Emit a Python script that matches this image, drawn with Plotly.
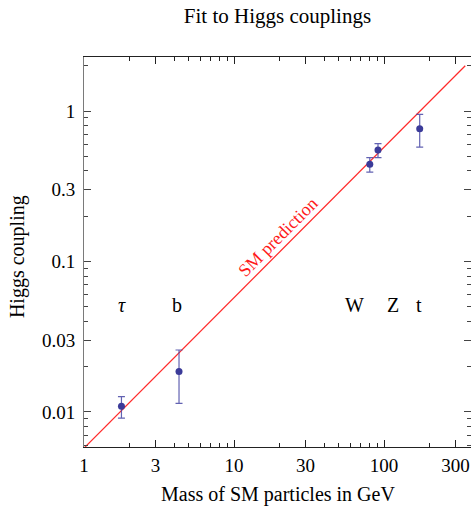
import math
import plotly.graph_objects as go

particles = ["τ", "b", "W", "Z", "t"]
masses = [1.777, 4.3, 80.4, 91.2, 173.0]
coupling = [0.0109, 0.0186, 0.442, 0.551, 0.763]
err_high = [0.01265, 0.0258, 0.49, 0.607, 0.95]
err_low = [0.0091, 0.0114, 0.392, 0.49, 0.576]

# where the particle names sit
label_mass = [1.79, 4.2, 64.0, 115.0, 170.0]
label_coupling = [0.051, 0.051, 0.051, 0.051, 0.051]

# SM line endpoints (coupling = m / 174 GeV)
sm_mass = [1.0, 348.0]
sm_coupling = [1.0 / 174.0, 2.0]

x_major = [1, 3, 10, 30, 100, 300]
x_minor = [2, 4, 5, 6, 7, 8, 9, 20, 40, 50, 60, 70, 80, 90, 200]
y_major = [0.01, 0.03, 0.1, 0.3, 1]
y_minor = [0.006, 0.007, 0.008, 0.009, 0.02, 0.04, 0.05, 0.06, 0.07, 0.08, 0.09,
           0.2, 0.4, 0.5, 0.6, 0.7, 0.8, 0.9, 2]

FONT = "Liberation Serif"

fig = go.Figure()
fig.add_trace(go.Scatter(x=sm_mass, y=sm_coupling, mode="lines",
                         line=dict(color="#ff2a2a", width=1.2), showlegend=False,
                         hoverinfo="skip"))
fig.add_trace(go.Scatter(
    x=masses, y=coupling, mode="markers", showlegend=False,
    marker=dict(color="#3b3b99", size=7),
    error_y=dict(type="data", symmetric=False,
                 array=[h - c for h, c in zip(err_high, coupling)],
                 arrayminus=[c - l for c, l in zip(coupling, err_low)],
                 color="rgba(70,70,165,0.85)", thickness=1.2, width=3.5)))

# log axes: annotation positions are given in log10 units
for name, lx, ly in zip(particles, label_mass, label_coupling):
    fig.add_annotation(x=math.log10(lx), y=math.log10(ly), xref="x", yref="y", showarrow=False,
                       text=f"<i>{name}</i>" if name == "τ" else name,
                       font=dict(family=FONT, size=20, color="black"))

fig.add_annotation(x=math.log10(19.6), y=math.log10(0.146), xref="x", yref="y", showarrow=False,
                   text="SM prediction", textangle=-45,
                   font=dict(family=FONT, size=18, color="#ff1a1a"))

# axis titles placed by hand
fig.add_annotation(x=0.5, y=0, xref="paper", yref="paper", yshift=-47, showarrow=False,
                   yanchor="middle", text="Mass of SM particles in GeV",
                   font=dict(family=FONT, size=20, color="black"))
fig.add_annotation(x=0, y=0.487, xref="paper", yref="paper", xshift=-67, showarrow=False,
                   xanchor="center", text="Higgs coupling", textangle=-90,
                   font=dict(family=FONT, size=20, color="black"))

axis_common = dict(type="log", showgrid=False, zeroline=False, mirror="ticks",
                   showline=True, ticks="inside", ticklen=7, tickwidth=1, automargin=False,
                   tickfont=dict(family=FONT, size=19, color="black"))

fig.update_xaxes(**axis_common, range=[0, 2.58], linecolor="#222222", tickcolor="#222222",
                 tickmode="array", tickvals=x_major, ticktext=[str(v) for v in x_major],
                 minor=dict(tickmode="array", tickvals=x_minor, ticks="inside",
                            ticklen=4, tickcolor="#222222"),
                 ticklabelstandoff=1)
fig.update_yaxes(**axis_common, range=[-2.233, 0.359], linecolor="#7a7a7a", tickcolor="#444444",
                 tickmode="array", tickvals=y_major, ticktext=["0.01", "0.03", "0.1", "0.3", "1"],
                 minor=dict(tickmode="array", tickvals=y_minor, ticks="inside",
                            ticklen=4, tickcolor="#444444"),
                 ticklabelstandoff=4)

fig.update_layout(
    width=471, height=506,
    margin=dict(l=84, r=0, t=57, b=59),
    paper_bgcolor="white", plot_bgcolor="white",
    title=dict(text="Fit to Higgs couplings", xref="paper", x=0.5, xanchor="center",
               yref="container", y=0.970, yanchor="middle",
               font=dict(family=FONT, size=21, color="black")),
)

# drop the default body margin so the figure fills the window exactly
fig.write_html("out.html", config={"displayModeBar": False},
               post_script="document.body.style.margin='0';document.body.style.overflow='hidden';")
